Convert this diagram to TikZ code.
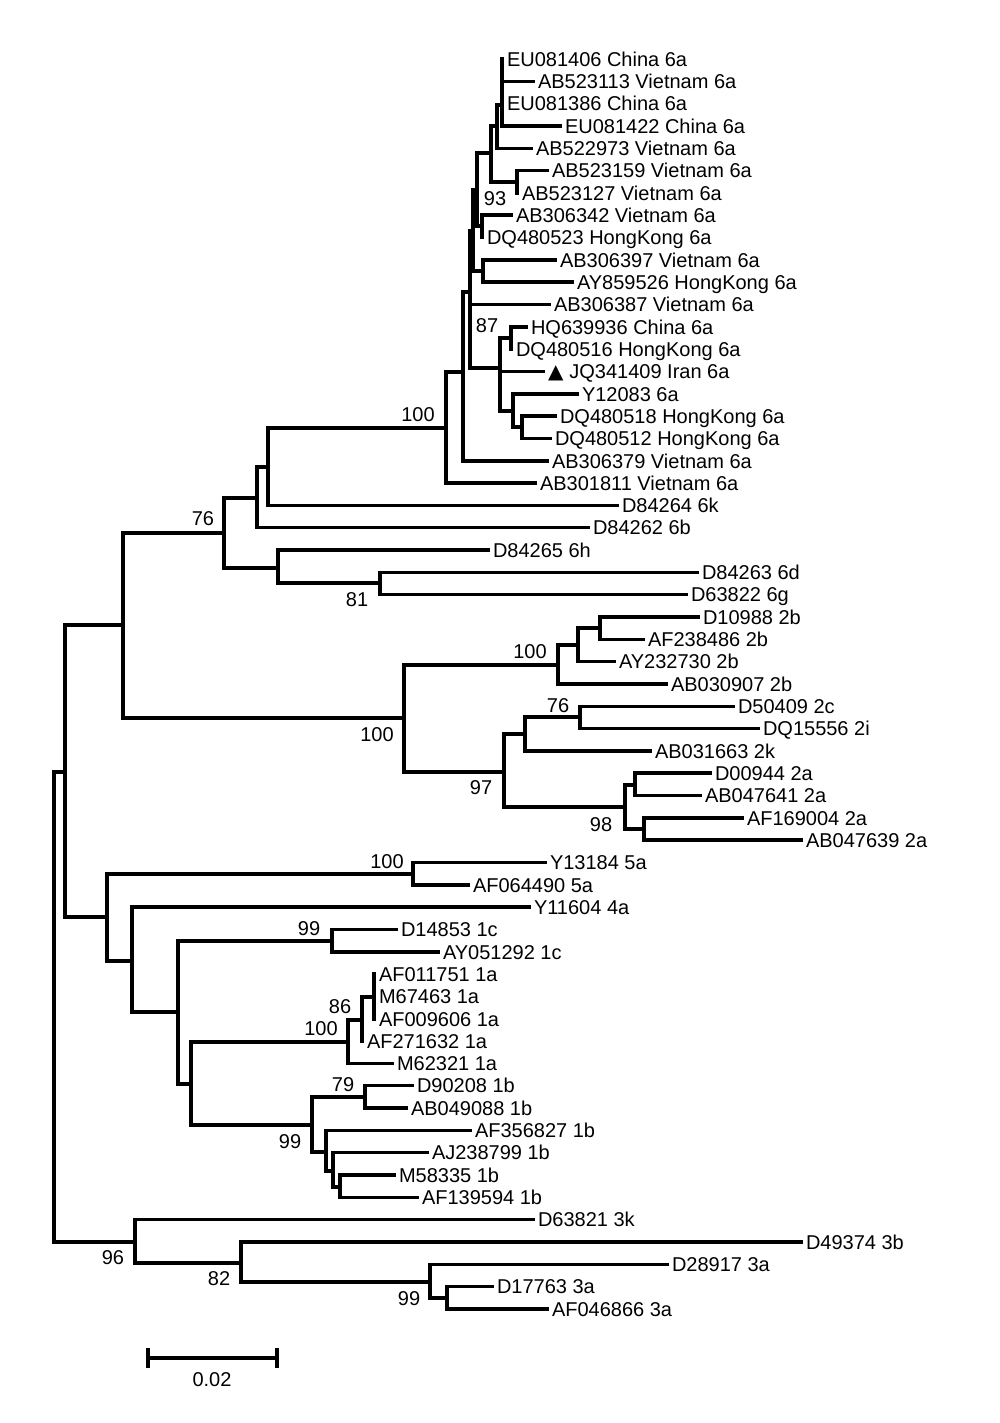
\documentclass[tikz,border=0pt]{standalone}
\usepackage{fontspec}
\setmainfont{Liberation Sans}
\newfontfamily\symfont{DejaVu Sans}
\begin{document}
\begin{tikzpicture}[x=0.5pt,y=-0.5pt,
    branch/.style={line width=1.75pt, line cap=rect},
    leaf/.style={anchor=west, inner xsep=2.5pt, inner ysep=0pt, outer sep=0pt,
      text height=7.2pt, text depth=0pt, font=\fontsize{10}{12}\selectfont},
    boot/.style={inner sep=0pt, font=\fontsize{10}{12}\selectfont}]
   \useasboundingbox (0,0) rectangle (1000,1423);
   % internal nodes
   \coordinate (root) at (54,1000);
   \coordinate (gA) at (65,772);
   \coordinate (g3) at (135,1242);
   \coordinate (g62) at (123,625);
   \coordinate (g5141) at (107,917);
   \coordinate (g6) at (224,533);
   \coordinate (g6abk) at (257,498);
   \coordinate (g6ak) at (268,467);
   \coordinate (g6a) at (446,428);
   \coordinate (n10) at (463,372);
   \coordinate (n9) at (470,292);
   \coordinate (n7) at (473,231);
   \coordinate (n8) at (483,271);
   \coordinate (n6) at (477,190);
   \coordinate (n5) at (482,226);
   \coordinate (n4) at (491,153);
   \coordinate (n3) at (517,182);
   \coordinate (n2) at (497,126);
   \coordinate (n1) at (502,105);
   \coordinate (n87) at (500,368);
   \coordinate (nhq) at (511,338);
   \coordinate (ny) at (513,411);
   \coordinate (ndq) at (522,427);
   \coordinate (g6hdg) at (278,568);
   \coordinate (g81) at (380,583);
   \coordinate (g2) at (404,718);
   \coordinate (g2b) at (558,665);
   \coordinate (nT) at (578,645);
   \coordinate (nU) at (600,628);
   \coordinate (g2r) at (504,772);
   \coordinate (nW) at (525,734);
   \coordinate (g76b) at (580,717);
   \coordinate (g98) at (625,807);
   \coordinate (nZ) at (635,785);
   \coordinate (nAA) at (644,829);
   \coordinate (g5) at (413,874);
   \coordinate (g41) at (132,961);
   \coordinate (g1) at (178,1012);
   \coordinate (g1c) at (332,941);
   \coordinate (g1ab) at (191,1084);
   \coordinate (g1a) at (348,1042);
   \coordinate (g86) at (362,1020);
   \coordinate (n1aa) at (374,997);
   \coordinate (g1b) at (312,1125);
   \coordinate (g79) at (365,1097);
   \coordinate (nL) at (326,1152);
   \coordinate (nM) at (333,1171);
   \coordinate (nN) at (340,1187);
   \coordinate (g82) at (241,1263);
   \coordinate (g99) at (430,1282);
   \coordinate (nR) at (447,1298);
   % leaves, genotype 6
   \node[leaf] (EU081406) at (502,59) {EU081406 China 6a};
   \node[leaf] (AB523113) at (533,81.3) {AB523113 Vietnam 6a};
   \node[leaf] (EU081386) at (502,103.6) {EU081386 China 6a};
   \node[leaf] (EU081422) at (560,126) {EU081422 China 6a};
   \node[leaf] (AB522973) at (531,148.3) {AB522973 Vietnam 6a};
   \node[leaf] (AB523159) at (547,170.6) {AB523159 Vietnam 6a};
   \node[leaf] (AB523127) at (517,192.9) {AB523127 Vietnam 6a};
   \node[leaf] (AB306342) at (511,215.2) {AB306342 Vietnam 6a};
   \node[leaf] (DQ480523) at (482,237.6) {DQ480523 HongKong 6a};
   \node[leaf] (AB306397) at (555,259.9) {AB306397 Vietnam 6a};
   \node[leaf] (AY859526) at (572,282.2) {AY859526 HongKong 6a};
   \node[leaf] (AB306387) at (549,304.5) {AB306387 Vietnam 6a};
   \node[leaf] (HQ639936) at (526,326.8) {HQ639936 China 6a};
   \node[leaf] (DQ480516) at (511,349.2) {DQ480516 HongKong 6a};
   \node[leaf] (JQ341409) at (543,371.5) {{\symfont ▲}\hspace{3pt}JQ341409 Iran 6a};
   \node[leaf] (Y12083) at (577,393.8) {Y12083 6a};
   \node[leaf] (DQ480518) at (555,416.1) {DQ480518 HongKong 6a};
   \node[leaf] (DQ480512) at (550,438.4) {DQ480512 HongKong 6a};
   \node[leaf] (AB306379) at (547,460.8) {AB306379 Vietnam 6a};
   \node[leaf] (AB301811) at (535,483.1) {AB301811 Vietnam 6a};
   \node[leaf] (D84264) at (617,505.4) {D84264 6k};
   \node[leaf] (D84262) at (588,527.7) {D84262 6b};
   \node[leaf] (D84265) at (488,550) {D84265 6h};
   \node[leaf] (D84263) at (697,572.4) {D84263 6d};
   \node[leaf] (D63822) at (686,594.7) {D63822 6g};
   % leaves, genotype 2
   \node[leaf] (D10988) at (698,617) {D10988 2b};
   \node[leaf] (AF238486) at (643,639.3) {AF238486 2b};
   \node[leaf] (AY232730) at (614,661.6) {AY232730 2b};
   \node[leaf] (AB030907) at (666,684) {AB030907 2b};
   \node[leaf] (D50409) at (733,706.3) {D50409 2c};
   \node[leaf] (DQ15556) at (758,728.6) {DQ15556 2i};
   \node[leaf] (AB031663) at (650,750.9) {AB031663 2k};
   \node[leaf] (D00944) at (710,773.2) {D00944 2a};
   \node[leaf] (AB047641) at (700,795.6) {AB047641 2a};
   \node[leaf] (AF169004) at (742,817.9) {AF169004 2a};
   \node[leaf] (AB047639) at (801,840.2) {AB047639 2a};
   % leaves, genotypes 5, 4, 1
   \node[leaf] (Y13184) at (545,862.5) {Y13184 5a};
   \node[leaf] (AF064490) at (468,884.8) {AF064490 5a};
   \node[leaf] (Y11604) at (529,907.2) {Y11604 4a};
   \node[leaf] (D14853) at (396,929.5) {D14853 1c};
   \node[leaf] (AY051292) at (438,951.8) {AY051292 1c};
   \node[leaf] (AF011751) at (374,974.1) {AF011751 1a};
   \node[leaf] (M67463) at (374,996.4) {M67463 1a};
   \node[leaf] (AF009606) at (374,1018.8) {AF009606 1a};
   \node[leaf] (AF271632) at (362,1041.1) {AF271632 1a};
   \node[leaf] (M62321) at (392,1063.4) {M62321 1a};
   \node[leaf] (D90208) at (412,1085.7) {D90208 1b};
   \node[leaf] (AB049088) at (406,1108) {AB049088 1b};
   \node[leaf] (AF356827) at (470,1130.4) {AF356827 1b};
   \node[leaf] (AJ238799) at (427,1152.7) {AJ238799 1b};
   \node[leaf] (M58335) at (394,1175) {M58335 1b};
   \node[leaf] (AF139594) at (417,1197.3) {AF139594 1b};
   % leaves, genotype 3
   \node[leaf] (D63821) at (533,1219.6) {D63821 3k};
   \node[leaf] (D49374) at (801,1242) {D49374 3b};
   \node[leaf] (D28917) at (667,1264.3) {D28917 3a};
   \node[leaf] (D17763) at (492,1286.6) {D17763 3a};
   \node[leaf] (AF046866) at (547,1308.9) {AF046866 3a};
   % branches
   \foreach \p/\c in {root/gA, root/g3, gA/g62, gA/g5141, g62/g6, g62/g2,
       g6/g6abk, g6/g6hdg, g6abk/g6ak, g6abk/D84262, g6ak/g6a, g6ak/D84264,
       g6a/n10, g6a/AB301811, n10/n9, n10/AB306379, n9/n7, n9/AB306387, n9/n87,
       n7/n6, n7/n8, n8/AB306397, n8/AY859526, n6/n4, n6/n5,
       n5/AB306342, n5/DQ480523, n4/n2, n4/n3, n3/AB523159, n3/AB523127,
       n2/n1, n2/AB522973, n1/EU081406, n1/AB523113, n1/EU081386, n1/EU081422,
       n87/nhq, n87/JQ341409, n87/ny, nhq/HQ639936, nhq/DQ480516,
       ny/Y12083, ny/ndq, ndq/DQ480518, ndq/DQ480512,
       g6hdg/D84265, g6hdg/g81, g81/D84263, g81/D63822}
     \draw[branch] (\p) |- (\c);
   \foreach \p/\c in {g2/g2b, g2/g2r, g2b/nT, g2b/AB030907, nT/nU, nT/AY232730,
       nU/D10988, nU/AF238486, g2r/nW, g2r/g98, nW/g76b, nW/AB031663,
       g76b/D50409, g76b/DQ15556, g98/nZ, g98/nAA, nZ/D00944, nZ/AB047641,
       nAA/AF169004, nAA/AB047639}
     \draw[branch] (\p) |- (\c);
   \foreach \p/\c in {g5141/g5, g5141/g41, g5/Y13184, g5/AF064490, g41/Y11604,
       g41/g1, g1/g1c, g1/g1ab, g1c/D14853, g1c/AY051292, g1ab/g1a, g1ab/g1b,
       g1a/g86, g1a/M62321, g86/n1aa, g86/AF271632, n1aa/AF011751, n1aa/M67463,
       n1aa/AF009606, g1b/g79, g1b/nL, g79/D90208, g79/AB049088,
       nL/AF356827, nL/nM, nM/AJ238799, nM/nN, nN/M58335, nN/AF139594}
     \draw[branch] (\p) |- (\c);
   \foreach \p/\c in {g3/D63821, g3/g82, g82/D49374, g82/g99, g99/D28917,
       g99/nR, nR/D17763, nR/AF046866}
     \draw[branch] (\p) |- (\c);
   % bootstrap values
   \node[boot] (b93) at (495,199) {93};
   \node[boot] (b87) at (487,326) {87};
   \node[boot] (b6a) at (418,415) {100};
   \node[boot] (b6) at (203,519) {76};
   \node[boot] (b81) at (357,600) {81};
   \node[boot] (b2b) at (530,652) {100};
   \node[boot] (b2c) at (558,706) {76};
   \node[boot] (b2) at (377,735) {100};
   \node[boot] (b97) at (481,788) {97};
   \node[boot] (b98) at (601,825) {98};
   \node[boot] (b5) at (387,862) {100};
   \node[boot] (b1c) at (309,929) {99};
   \node[boot] (b86) at (340,1007) {86};
   \node[boot] (b1a) at (321,1029) {100};
   \node[boot] (b79) at (343,1085) {79};
   \node[boot] (b1b) at (290,1142) {99};
   \node[boot] (b3) at (113,1258) {96};
   \node[boot] (b82) at (219,1279) {82};
   \node[boot] (b3a) at (409,1299) {99};
   % scale bar
   \coordinate (sbl) at (148,1358);
   \coordinate (sbr) at (277,1358);
   \draw[branch] (sbl) -- (sbr);
   \draw[branch] ([yshift=4pt]sbl) -- ([yshift=-4pt]sbl);
   \draw[branch] ([yshift=4pt]sbr) -- ([yshift=-4pt]sbr);
   \node[boot] (sblab) at (212,1380) {0.02};
\end{tikzpicture}
\end{document}
